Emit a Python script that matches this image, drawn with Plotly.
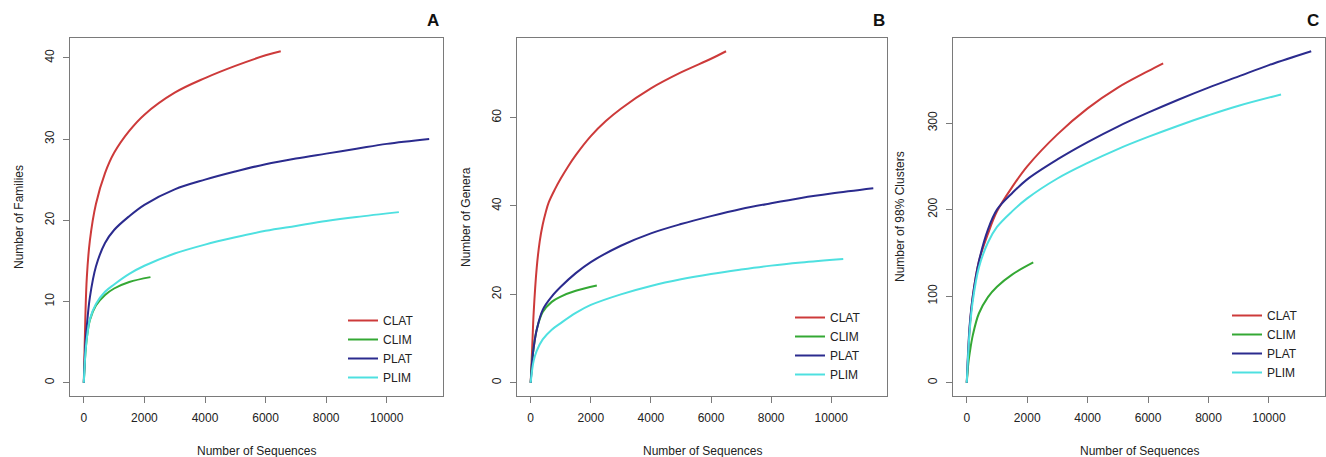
import plotly.graph_objects as go

# ---------------- data ----------------
series_names = ["CLAT", "CLIM", "PLAT", "PLIM"]

# Panel A : Number of Families
A_CLAT_x = [0, 50, 100, 200, 400, 700, 1000, 1500, 2000, 3000, 4000, 5000, 6000, 6500]
A_CLAT_y = [0, 8, 13, 17.5, 22, 25.8, 28.3, 31.0, 33.0, 35.7, 37.5, 39.0, 40.3, 40.8]
A_CLIM_x = [0, 50, 100, 200, 400, 700, 1000, 1500, 2200]
A_CLIM_y = [0, 3.5, 5.5, 7.7, 9.5, 10.8, 11.6, 12.4, 13.0]
A_PLAT_x = [0, 50, 100, 200, 400, 700, 1000, 1500, 2000, 3000, 4000, 5000, 6000, 7000, 8000, 9000, 10000, 11400]
A_PLAT_y = [0, 4.5, 7, 10.5, 14.3, 17.2, 18.8, 20.5, 21.9, 23.8, 25.0, 26.0, 26.9, 27.6, 28.2, 28.8, 29.4, 30.0]
A_PLIM_x = [0, 50, 100, 200, 400, 700, 1000, 1500, 2000, 3000, 4000, 5000, 6000, 7000, 8000, 9000, 10400]
A_PLIM_y = [0, 3.5, 5.5, 7.8, 9.7, 11.2, 12.1, 13.4, 14.4, 15.9, 17.0, 17.9, 18.7, 19.3, 19.9, 20.4, 21.0]

# Panel B : Number of Genera
B_CLAT_x = [0, 50, 100, 200, 300, 400, 500, 600, 800, 1000, 1250, 1500, 2000, 2500, 3000, 4000, 5000, 6000, 6500]
B_CLAT_y = [0, 8, 16, 26, 32, 35.8, 38.6, 40.8, 43.7, 46.2, 49.0, 51.5, 55.8, 59.2, 62.0, 66.6, 70.2, 73.3, 75]
B_CLIM_x = [0, 50, 100, 200, 400, 700, 1000, 1500, 2200]
B_CLIM_y = [0, 5, 8, 12, 16, 18.3, 19.5, 20.8, 22]
B_PLAT_x = [0, 50, 100, 200, 400, 700, 1000, 1500, 2000, 3000, 4000, 5000, 6000, 7000, 8000, 9000, 10000, 11400]
B_PLAT_y = [0, 5, 8, 12, 16.5, 19.5, 21.7, 24.8, 27.3, 31, 33.8, 35.9, 37.7, 39.3, 40.6, 41.8, 42.8, 44]
B_PLIM_x = [0, 50, 100, 200, 400, 700, 1000, 1500, 2000, 3000, 4000, 5000, 6000, 7000, 8000, 9000, 10400]
B_PLIM_y = [0, 3, 5, 7.2, 9.8, 12, 13.5, 15.8, 17.6, 20, 21.9, 23.4, 24.6, 25.6, 26.5, 27.2, 28]

# Panel C : Number of 98% Clusters
C_CLAT_x = [0, 50, 100, 200, 400, 700, 1000, 1500, 2000, 3000, 4000, 5000, 6000, 6500]
C_CLAT_y = [0, 35, 65, 100, 140, 172, 198, 226, 250, 287, 317, 341, 360, 369]
C_CLIM_x = [0, 50, 100, 200, 400, 700, 1000, 1500, 2200]
C_CLIM_y = [0, 22, 35, 55, 80, 99, 111, 125, 139]
C_PLAT_x = [0, 50, 100, 200, 400, 700, 1000, 1500, 2000, 3000, 4000, 5000, 6000, 7000, 8000, 9000, 10000, 11400]
C_PLAT_y = [0, 40, 68, 100, 140, 177, 200, 219, 235, 258, 278, 296, 312, 327, 341, 354, 367, 383]
C_PLIM_x = [0, 50, 100, 200, 400, 700, 1000, 1500, 2000, 3000, 4000, 5000, 6000, 7000, 8000, 9000, 10400]
C_PLIM_y = [0, 35, 62, 95, 133, 162, 180, 198, 213, 236, 254, 270, 284, 297, 309, 320, 333]

x_tick_vals = [0, 2000, 4000, 6000, 8000, 10000]
x_tick_text = ["0", "2000", "4000", "6000", "8000", "10000"]
A_tick_vals = [0, 10, 20, 30, 40]
B_tick_vals = [0, 20, 40, 60]
C_tick_vals = [0, 100, 200, 300]

panel_letters = ["A", "B", "C"]
y_titles = ["Number of Families", "Number of Genera", "Number of 98% Clusters"]
x_title = "Number of Sequences"

# ---------------- styling ----------------
W, H = 1326, 457
FONT = "Liberation Sans, Arial, Helvetica, sans-serif"
colors = {"CLAT": "#cd3a3a", "CLIM": "#34a834", "PLAT": "#2b2b8e", "PLIM": "#4ee0e0"}

panels = [
    {"data": {"CLAT": (A_CLAT_x, A_CLAT_y), "CLIM": (A_CLIM_x, A_CLIM_y),
              "PLAT": (A_PLAT_x, A_PLAT_y), "PLIM": (A_PLIM_x, A_PLIM_y)},
     "yt": A_tick_vals, "box": (70, 443), "leg": (343, 306), "lab": 433, "yt_x": 19},
    {"data": {"CLAT": (B_CLAT_x, B_CLAT_y), "CLIM": (B_CLIM_x, B_CLIM_y),
              "PLAT": (B_PLAT_x, B_PLAT_y), "PLIM": (B_PLIM_x, B_PLIM_y)},
     "yt": B_tick_vals, "box": (517, 887), "leg": (790, 303), "lab": 879, "yt_x": 466},
    {"data": {"CLAT": (C_CLAT_x, C_CLAT_y), "CLIM": (C_CLIM_x, C_CLIM_y),
              "PLAT": (C_PLAT_x, C_PLAT_y), "PLIM": (C_PLIM_x, C_PLIM_y)},
     "yt": C_tick_vals, "box": (953, 1325), "leg": (1227, 301), "lab": 1313, "yt_x": 900},
]
BOX_TOP, BOX_BOT = 38, 396

fig = go.Figure()
layout = dict(
    width=W, height=H, margin=dict(l=0, r=0, t=0, b=0),
    paper_bgcolor="white", plot_bgcolor="white",
    font=dict(family=FONT, size=12, color="#222"),
    annotations=[],
)

for i, p in enumerate(panels):
    sfx = "" if i == 0 else str(i + 1)
    legname = "legend" if i == 0 else "legend" + str(i + 1)
    xmax = max(max(v[0]) for v in p["data"].values())
    ymax = max(max(v[1]) for v in p["data"].values())
    for name in series_names:
        xs, ys = p["data"][name]
        fig.add_trace(go.Scatter(
            x=xs, y=ys, mode="lines", name=name,
            line=dict(color=colors[name], width=2, shape="spline", smoothing=1.0),
            xaxis="x" + sfx, yaxis="y" + sfx, legend=legname,
            hoverinfo="skip",
        ))
    x0, x1 = p["box"]
    axis_common = dict(
        showgrid=False, zeroline=False, showline=True, mirror=True,
        linecolor="#7a7a7a", linewidth=1, ticks="outside", ticklen=6,
        tickcolor="#7a7a7a", tickfont=dict(size=12, color="#222", family=FONT),
    )
    layout["xaxis" + sfx] = dict(
        axis_common, domain=[x0 / W, x1 / W], anchor="y" + sfx,
        range=[-0.04 * xmax, 1.04 * xmax],
        tickvals=x_tick_vals, ticktext=x_tick_text, ticklabelstandoff=5,
    )
    layout["yaxis" + sfx] = dict(
        axis_common, domain=[1 - BOX_BOT / H, 1 - BOX_TOP / H], anchor="x" + sfx,
        range=[-0.04 * ymax, 1.04 * ymax],
        tickvals=p["yt"], ticktext=[str(v) for v in p["yt"]], tickangle=-90,
        ticklabelstandoff=4,
    )
    lx, ly = p["leg"]
    layout[legname] = dict(
        x=lx / W, y=1 - ly / H, xanchor="left", yanchor="top",
        bgcolor="rgba(0,0,0,0)", borderwidth=0,
        font=dict(size=12, color="#222", family=FONT),
        itemwidth=30, tracegroupgap=0,
    )
    cx = (x0 + x1) / 2
    layout["annotations"].append(dict(
        text=x_title, x=cx / W, y=1 - 451 / H, xref="paper", yref="paper",
        showarrow=False, xanchor="center", yanchor="middle",
        font=dict(size=12, color="#222", family=FONT)))
    layout["annotations"].append(dict(
        text=y_titles[i], x=p["yt_x"] / W, y=1 - ((BOX_TOP + BOX_BOT) / 2) / H,
        xref="paper", yref="paper", textangle=-90,
        showarrow=False, xanchor="center", yanchor="middle",
        font=dict(size=12, color="#222", family=FONT)))
    layout["annotations"].append(dict(
        text="<b>" + panel_letters[i] + "</b>", x=p["lab"] / W, y=1 - 21 / H,
        xref="paper", yref="paper", showarrow=False,
        xanchor="center", yanchor="middle",
        font=dict(size=17, color="#111", family=FONT)))

fig.update_layout(**layout)
fig.write_html("out.html", config={"displayModeBar": False},
               post_script="document.body.style.margin='0px';")
